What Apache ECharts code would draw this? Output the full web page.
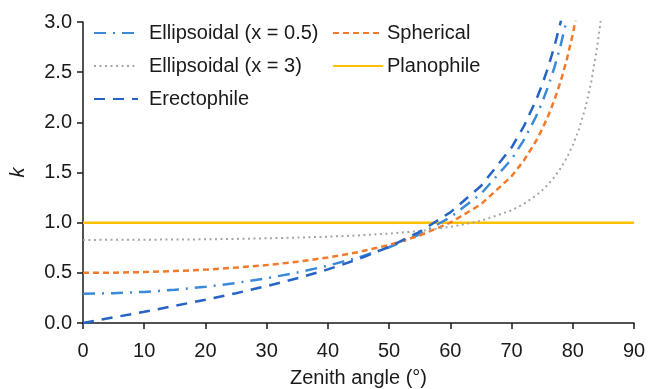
<!DOCTYPE html>
<html>
<head>
<meta charset="utf-8">
<script src="https://cdn.jsdelivr.net/npm/echarts@6/dist/echarts.min.js"></script>
<style>
  html, body { margin: 0; padding: 0; background: #fff; }
  #chart { width: 649px; height: 389px; }
</style>
</head>
<body>
<div id="chart"></div>
<script>
// zenith angle (deg) sample points
const angles = [0, 5, 10, 15, 20, 25, 30, 35, 40, 45, 50, 55, 60, 65, 70, 72, 74, 75, 76, 77, 78, 79, 80, 81, 82, 83, 84, 84.5, 85];

const ellipsoidal05 = [0.292, 0.297, 0.310, 0.331, 0.361, 0.399, 0.446, 0.503, 0.571, 0.653, 0.755, 0.884, 1.053, 1.286, 1.632, 1.822, 2.058, 2.200, 2.361, 2.547, 2.764, 3.020];
const ellipsoidal3 = [0.828, 0.829, 0.830, 0.832, 0.834, 0.838, 0.844, 0.851, 0.860, 0.873, 0.891, 0.917, 0.957, 1.018, 1.123, 1.187, 1.270, 1.322, 1.383, 1.455, 1.541, 1.644, 1.772, 1.930, 2.132, 2.397, 2.755, 2.985, 3.263];
const erectophile = [0, 0.056, 0.112, 0.171, 0.232, 0.297, 0.368, 0.446, 0.534, 0.637, 0.759, 0.909, 1.103, 1.365, 1.749, 1.959, 2.220, 2.376, 2.553, 2.758, 2.995, 3.275];
const spherical = [0.500, 0.502, 0.508, 0.518, 0.532, 0.552, 0.577, 0.610, 0.653, 0.707, 0.778, 0.872, 1.000, 1.183, 1.462, 1.618, 1.814, 1.932, 2.067, 2.223, 2.405, 2.620, 2.879, 3.196];
const planophileAngles = [0, 90];
const planophile = [1, 1];

const xTicks = { min: 0, max: 90, interval: 10 };
const yTicks = { min: 0, max: 3, interval: 0.5 };

const pairs = (xs, ys) => ys.map((y, i) => [xs[i], y]);

const font = '"Liberation Sans", Arial, sans-serif';
const textColor = '#1a1a1a';
const axisColor = '#1a1a1a';
const fs = 20;

const line = (name, data, color, type, width) => ({
  name,
  type: 'line',
  data,
  symbol: 'none',
  animation: false,
  lineStyle: { color, width, type },
  itemStyle: { color },
  z: name === 'Planophile' ? 1 : 2,
});

const chart = echarts.init(document.getElementById('chart'), null, { renderer: 'canvas' });

chart.setOption({
  backgroundColor: '#fff',
  textStyle: { fontFamily: font },
  grid: { left: 83, right: 15, top: 22, bottom: 66, containLabel: false, outerBoundsMode: 'none' },
  legend: [
    {
      data: ['Ellipsoidal (x = 0.5)', 'Ellipsoidal (x = 3)', 'Erectophile'],
      orient: 'vertical',
      left: 88,
      top: 18,
      itemWidth: 44,
      itemHeight: 14,
      itemGap: 13,
      itemStyle: { opacity: 0 },
      textStyle: { fontSize: fs, color: textColor, fontFamily: font, padding: [0, 0, 0, 6] },
    },
    {
      data: ['Spherical', 'Planophile'],
      orient: 'vertical',
      left: 327,
      top: 18,
      itemWidth: 50,
      itemHeight: 14,
      itemGap: 13,
      itemStyle: { opacity: 0 },
      textStyle: { fontSize: fs, color: textColor, fontFamily: font, padding: [0, 0, 0, -1] },
    },
  ],
  xAxis: {
    type: 'value',
    ...xTicks,
    name: 'Zenith angle (°)',
    nameLocation: 'middle',
    nameGap: 45,
    nameTextStyle: { fontSize: fs, color: textColor, fontFamily: font },
    axisLine: { lineStyle: { color: axisColor, width: 1.5 } },
    axisTick: { show: true, length: 6, inside: false, lineStyle: { color: axisColor, width: 1.5 } },
    axisLabel: { fontSize: fs, color: textColor, margin: 18, fontFamily: font },
    splitLine: { show: false },
  },
  yAxis: {
    type: 'value',
    ...yTicks,
    name: 'k',
    nameLocation: 'middle',
    nameGap: 55,
    nameTextStyle: { fontSize: fs, color: textColor, fontStyle: 'italic', fontFamily: font },
    axisLine: { show: true, lineStyle: { color: axisColor, width: 1.5 } },
    axisTick: { show: true, length: 6, lineStyle: { color: axisColor, width: 1.5 } },
    axisLabel: { fontSize: fs, color: textColor, margin: 11, fontFamily: font, formatter: (v) => v.toFixed(1) },
    splitLine: { show: false },
  },
  series: [
    line('Ellipsoidal (x = 0.5)', pairs(angles, ellipsoidal05), '#3a8ad8', [12, 7, 2, 7], 2.5),
    line('Spherical', pairs(angles, spherical), '#f27a2a', [6, 4], 2.5),
    line('Ellipsoidal (x = 3)', pairs(angles, ellipsoidal3), '#a5a5a5', [2, 3.5], 2),
    line('Planophile', pairs(planophileAngles, planophile), '#ffc000', 'solid', 2.5),
    line('Erectophile', pairs(angles, erectophile), '#2563c4', [11, 8], 2.5),
  ],
});
</script>
</body>
</html>
